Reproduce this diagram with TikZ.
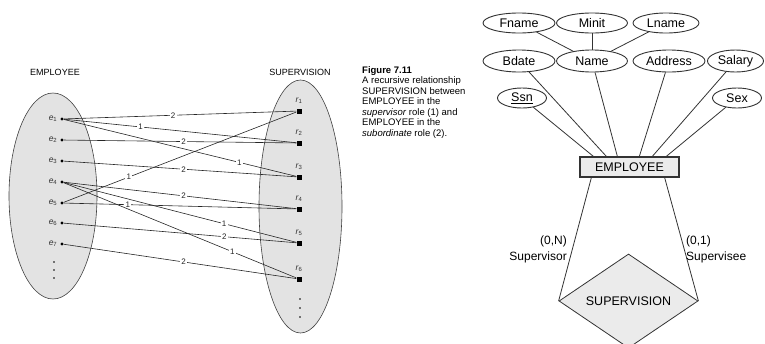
\documentclass[tikz,border=0pt]{standalone}
\usepackage{fontspec}
\setmainfont{Liberation Sans}
\usetikzlibrary{shapes.geometric}

\begin{document}
\begin{tikzpicture}[x=1pt,y=-1pt,
  set/.style={draw=black!75,fill=black!11,line width=.6pt},
  edot/.style={circle,fill=black,inner sep=0pt,minimum size=3.2pt},
  rsq/.style={rectangle,fill=black,inner sep=0pt,minimum size=5pt},
  lnk/.style={black!85,line width=.6pt},
  num/.style={fill=white,inner sep=1.2pt,font=\fontsize{8}{8}\selectfont},
  lab/.style={inner sep=0pt,text=black!80,font=\fontsize{8.5}{9}\selectfont},
  attr/.style={ellipse,draw=black!80,line width=.9pt,inner sep=0pt,minimum height=20pt,font=\fontsize{12.5}{13}\selectfont},
  er/.style={draw=black!80,line width=.8pt}]
\useasboundingbox (0,0) rectangle (765,343);
% occurrence diagram
\draw[set] (53,196) ellipse (44pt and 103pt);
\draw[set] (300.5,206.5) ellipse (41.5pt and 126.5pt);
\node[font=\fontsize{9}{9}\selectfont] (tEmp) at (55,72) {EMPLOYEE};
\node[font=\fontsize{9}{9}\selectfont] (tSup) at (300,72) {SUPERVISION};
\foreach \i/\y in {1/119,2/140,3/161,4/182,5/203,6/223,7/244}{
  \node[edot] (e\i) at (62,\y) {};
  \node[lab,anchor=east] (le\i) at (57.5,\y) {\textit{e}\textsubscript{\i}};
}
\foreach \i/\y in {1/111,2/143,3/177,4/209,5/243,6/279}{
  \node[rsq] (r\i) at (299,\y) {};
  \node[lab] (lr\i) at (299,\y-10) {\textit{r}\textsubscript{\i}};
}
\foreach \y in {262,270,278} \fill (54,\y) circle (.8pt);
\foreach \y in {299,308,317} \fill (300,\y) circle (.8pt);
\foreach \a/\b/\n/\p in {1/1/2/.47,1/2/1/.33,1/3/1/.755,2/2/2/.515,3/3/2/.515,
    5/1/1/.28,4/4/2/.515,5/4/1/.275,4/5/1/.69,6/5/2/.69,4/6/1/.725,7/6/2/.515}
  \draw[lnk] (e\a) -- node[num,pos=\p] {\n} (r\b);
\node[anchor=north west,align=left,inner sep=0pt,font=\fontsize{9.5}{10.5}\selectfont] (cap) at (362,66)
  {\textbf{Figure 7.11}\\A recursive relationship\\SUPERVISION between\\EMPLOYEE in the\\
   \textit{supervisor} role (1) and\\EMPLOYEE in the\\\textit{subordinate} role (2).};
% ER diagram
\node[attr,minimum width=72pt] (fname) at (519,23) {Fname};
\node[attr,minimum width=71pt] (minit) at (592,23) {Minit};
\node[attr,minimum width=66pt] (lname) at (666,23) {Lname};
\node[attr,minimum width=72pt,minimum height=22pt] (bdate) at (519,61) {Bdate};
\node[attr,minimum width=71pt,minimum height=22pt] (name) at (592,61) {Name};
\node[attr,minimum width=72pt,minimum height=22pt] (address) at (669,61) {Address};
\node[attr,minimum width=56pt,minimum height=22pt] (salary) at (735.5,61) {Salary};
\node[attr,minimum width=49pt] (ssn) at (522,98) {\underline{Ssn}};
\node[attr,minimum width=49pt] (sex) at (737,98) {Sex};
\node[draw=black!80,line width=1.3pt,fill=black!8,minimum width=99pt,minimum height=20pt,
  font=\fontsize{12.5}{13}\selectfont] (emp) at (629.5,167) {EMPLOYEE};
\node[diamond,er,fill=black!8,minimum width=139pt,minimum height=84pt,inner sep=0pt,
  font=\fontsize{12.5}{13}\selectfont] (sup) at (628.5,301) {SUPERVISION};
\draw[er] (fname) -- (name);
\draw[er] (minit) -- (name);
\draw[er] (lname) -- (name);
\draw[er] (ssn) -- ([xshift=14pt]emp.north west);
\draw[er] (bdate) -- ([xshift=27pt]emp.north west);
\draw[er] (name) -- ([xshift=38pt]emp.north west);
\draw[er] (address) -- ([xshift=60pt]emp.north west);
\draw[er] (salary) -- ([xshift=73pt]emp.north west);
\draw[er] (sex) -- ([xshift=87pt]emp.north west);
\draw[er] ([xshift=12pt]emp.south west) -- (sup.west);
\draw[er] ([xshift=-15pt]emp.south east) -- (sup.east);
\node[anchor=east,align=right,inner sep=0pt,font=\fontsize{12}{16}\selectfont] (lsup) at (567,249) {(0,N)\\Supervisor};
\node[anchor=west,align=left,inner sep=0pt,font=\fontsize{12}{16}\selectfont] (lsee) at (686,249) {(0,1)\\Supervisee};
\end{tikzpicture}
\end{document}
